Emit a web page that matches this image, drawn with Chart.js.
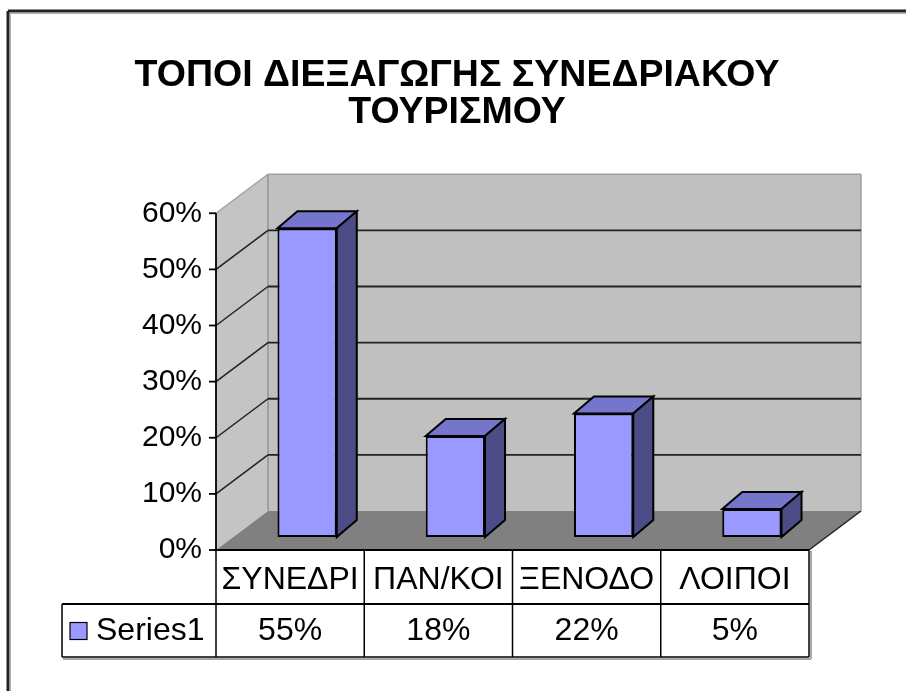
<!DOCTYPE html>
<html>
<head>
<meta charset="utf-8">
<script src="https://cdn.jsdelivr.net/npm/chart.js@4.4.0/dist/chart.umd.min.js"></script>
<style>
html, body { margin: 0; padding: 0; background: #fff; }
#wrap { width: 906px; height: 691px; position: relative; }
</style>
</head>
<body>
<div id="wrap"><canvas id="chart" width="906" height="691"></canvas></div>
<script>
// data
const categories = ['ΣΥΝΕΔΡΙ', 'ΠΑΝ/ΚΟΙ', 'ΞΕΝΟΔΟ', 'ΛΟΙΠΟΙ'];
const seriesName = 'Series1';
const values = [0.55, 0.18, 0.22, 0.05];
const titleLines = ['ΤΟΠΟΙ ΔΙΕΞΑΓΩΓΗΣ ΣΥΝΕΔΡΙΑΚΟΥ', 'ΤΟΥΡΙΣΜΟΥ'];
const yMax = 0.6;
const yStep = 0.1;

const pct = v => Math.round(v * 100) + '%';

// 3d offsets relative to the plane the bars stand in
const FRONT = { dx: -17, dy: 13 };
const BACK = { dx: 35, dy: -26 };
const DEPTH = { dx: 20, dy: -17 };

const barFront = '#9999ff';
const barTop = '#7575cc';
const barSide = '#4c4c86';
const tableFont = '32px "Liberation Sans", Arial, sans-serif';

function poly(ctx, pts, fill, stroke, lw) {
    ctx.beginPath();
    ctx.moveTo(pts[0][0], pts[0][1]);
    for (let i = 1; i < pts.length; i++) ctx.lineTo(pts[i][0], pts[i][1]);
    ctx.closePath();
    if (fill) { ctx.fillStyle = fill; ctx.fill(); }
    if (stroke) { ctx.strokeStyle = stroke; ctx.lineWidth = lw || 1; ctx.stroke(); }
}

function line(ctx, x1, y1, x2, y2, color, lw) {
    ctx.beginPath();
    ctx.moveTo(x1, y1);
    ctx.lineTo(x2, y2);
    ctx.strokeStyle = color;
    ctx.lineWidth = lw;
    ctx.stroke();
}

const excel3d = {
    id: 'excel3d',
    beforeDatasetsDraw(chart) {
        const { ctx, chartArea: a, scales: { x, y } } = chart;
        const fl = a.left + FRONT.dx, fr = a.right + FRONT.dx;
        const bl = a.left + BACK.dx, br = a.right + BACK.dx;
        const y0 = y.getPixelForValue(0), yT = y.getPixelForValue(yMax);
        ctx.save();

        // outer frame
        line(ctx, 8, 11, 906, 11, '#222', 3);
        line(ctx, 8, 11, 8, 691, '#222', 3);
        line(ctx, 10.5, 13.5, 906, 13.5, '#b0b0b0', 1);
        line(ctx, 10.5, 13.5, 10.5, 691, '#b0b0b0', 1);

        // walls + floor
        poly(ctx, [[fl, y0 + FRONT.dy], [fl, yT + FRONT.dy], [bl, yT + BACK.dy], [bl, y0 + BACK.dy]], '#c4c4c4');
        poly(ctx, [[bl, yT + BACK.dy], [br, yT + BACK.dy], [br, y0 + BACK.dy], [bl, y0 + BACK.dy]], '#c0c0c0');
        poly(ctx, [[fl, y0 + FRONT.dy], [fr, y0 + FRONT.dy], [br, y0 + BACK.dy], [bl, y0 + BACK.dy]], '#808080');

        // wall edges
        line(ctx, fl, yT + FRONT.dy, bl, yT + BACK.dy, '#a0a0a0', 1.5);
        line(ctx, bl, yT + BACK.dy, br, yT + BACK.dy, '#a0a0a0', 1.5);
        line(ctx, br, yT + BACK.dy, br, y0 + BACK.dy, '#a0a0a0', 1.5);
        line(ctx, bl, yT + BACK.dy, bl, y0 + BACK.dy, '#a0a0a0', 2);

        // gridlines
        y.ticks.forEach(t => {
            if (t.value <= 0 || t.value >= yMax - 1e-9) return;
            const py = y.getPixelForValue(t.value);
            line(ctx, fl, py + FRONT.dy, bl, py + BACK.dy, '#222', 1.5);
            line(ctx, bl, py + BACK.dy, br, py + BACK.dy, '#222', 1.8);
        });

        // floor right edge
        line(ctx, fr, y0 + FRONT.dy, br, y0 + BACK.dy, '#222', 1.5);

        // axis line and tick marks
        line(ctx, fl, yT + FRONT.dy, fl, y0 + FRONT.dy + 1, '#000', 1.8);
        y.ticks.forEach(t => {
            const py = y.getPixelForValue(t.value) + FRONT.dy;
            line(ctx, fl - 7, py, fl, py, '#000', 1.8);
        });
        ctx.restore();
    },
    afterDatasetsDraw(chart) {
        const { ctx } = chart;
        ctx.save();
        chart.getDatasetMeta(0).data.forEach(bar => {
            const p = bar.getProps(['x', 'y', 'base', 'width'], true);
            const l = p.x - p.width / 2, r = p.x + p.width / 2;
            poly(ctx, [[l, p.y], [r, p.y], [r + DEPTH.dx, p.y + DEPTH.dy], [l + DEPTH.dx, p.y + DEPTH.dy]], barTop, '#000', 2);
            poly(ctx, [[r, p.y], [r + DEPTH.dx, p.y + DEPTH.dy], [r + DEPTH.dx, p.base + DEPTH.dy], [r, p.base]], barSide, '#000', 2);
        });
        ctx.restore();
    },
    afterDraw(chart) {
        const { ctx, chartArea: a, scales: { x, y } } = chart;
        const fl = a.left + FRONT.dx, fr = a.right + FRONT.dx;
        const rowTop = y.getPixelForValue(0) + FRONT.dy;
        const rowMid = rowTop + 54;
        const rowBot = rowMid + 53;
        const legendLeft = 62;
        const colW = (fr - fl) / categories.length;
        ctx.save();

        // shadow
        line(ctx, legendLeft + 1, rowBot + 2, fr + 2, rowBot + 2, '#a8a8a8', 2);
        line(ctx, fr + 2, rowTop + 1, fr + 2, rowBot + 2, '#a8a8a8', 2);

        line(ctx, fl, rowTop, fr, rowTop, '#000', 2);
        line(ctx, legendLeft, rowMid, fr, rowMid, '#000', 2);
        line(ctx, legendLeft, rowBot, fr, rowBot, '#000', 1.5);
        line(ctx, legendLeft, rowMid, legendLeft, rowBot, '#000', 1.5);
        categories.forEach((c, i) => {
            const cx = x.getPixelForValue(i) + FRONT.dx;
            line(ctx, cx - colW / 2, rowTop, cx - colW / 2, rowBot, '#000', 1.5);
        });
        line(ctx, fr, rowTop, fr, rowBot, '#000', 1.5);

        // values row
        ctx.font = tableFont;
        ctx.fillStyle = '#000';
        ctx.textAlign = 'center';
        ctx.textBaseline = 'middle';
        values.forEach((v, i) => {
            ctx.fillText(pct(v), x.getPixelForValue(i) + FRONT.dx, (rowMid + rowBot) / 2 + 1);
        });

        // legend key
        const ky = (rowMid + rowBot) / 2;
        ctx.fillStyle = barFront;
        ctx.fillRect(70, ky - 8, 17, 17);
        ctx.strokeStyle = '#000';
        ctx.lineWidth = 1.2;
        ctx.strokeRect(70, ky - 8, 17, 17);
        ctx.fillStyle = '#000';
        ctx.textAlign = 'left';
        ctx.fillText(seriesName, 96, ky + 1);
        ctx.restore();
    }
};

Chart.defaults.font.family = '"Liberation Sans", Arial, sans-serif';
Chart.defaults.color = '#000';

new Chart(document.getElementById('chart'), {
    type: 'bar',
    data: {
        labels: categories,
        datasets: [{
            label: seriesName,
            data: values,
            backgroundColor: barFront,
            borderColor: '#000',
            borderWidth: 2,
            borderSkipped: false,
            categoryPercentage: 1,
            barPercentage: 0.4
        }]
    },
    options: {
        responsive: false,
        animation: false,
        layout: { padding: { left: 8, right: 0, top: 0, bottom: 0 } },
        plugins: {
            legend: { display: false },
            tooltip: { enabled: false },
            title: {
                display: true,
                text: titleLines,
                color: '#000',
                font: { size: 37.5, weight: 'bold', lineHeight: 0.99 },
                padding: { top: 57, bottom: 69 }
            }
        },
        scales: {
            x: {
                grid: { display: false, drawTicks: false },
                border: { display: false },
                ticks: { font: { size: 32 }, color: '#000', labelOffset: FRONT.dx, padding: 24, maxRotation: 0, autoSkip: false },
                afterFit: s => { s.height = 154; }
            },
            y: {
                min: 0,
                max: yMax,
                grid: { display: false, drawTicks: false },
                border: { display: false },
                ticks: { stepSize: yStep, font: { size: 30 }, color: '#000', labelOffset: FRONT.dy, padding: 31, callback: v => pct(v) },
                afterFit: s => { s.width = 225; }
            },
            // empty right axis: keeps room for the 3d depth on the right
            yRight: {
                type: 'linear',
                position: 'right',
                grid: { display: false, drawTicks: false },
                border: { display: false },
                ticks: { display: false },
                afterFit: s => { s.width = 80; }
            }
        }
    },
    plugins: [excel3d]
});
</script>
</body>
</html>
